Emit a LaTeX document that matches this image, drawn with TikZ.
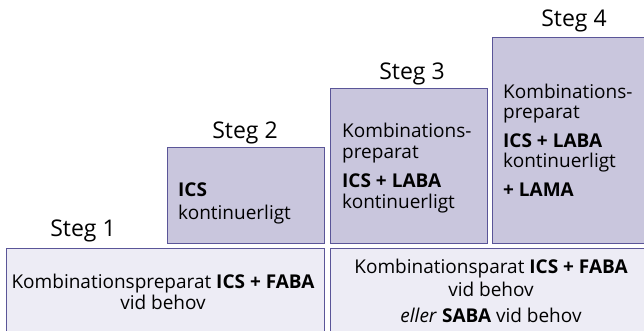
\documentclass[tikz,border=0pt]{standalone}
\usepackage{fontspec}
\setmainfont{Open Sans}
\definecolor{stepfill}{HTML}{C9C6DD}
\definecolor{basefill}{HTML}{EDECF5}
\definecolor{edgecol}{HTML}{5A5598}
\begin{document}
\begin{tikzpicture}[x=1pt,y=-1pt,
  stepbox/.style={draw=edgecol, fill=stepfill, line width=1pt, anchor=north west, inner sep=0pt, outer sep=0pt},
  basebox/.style={draw=edgecol, fill=basefill, line width=1pt, anchor=north west, inner sep=0pt, outer sep=0pt},
  steglabel/.style={font=\fontsize{23}{27}\selectfont, anchor=base, inner sep=0pt},
  bodyl/.style={font=\fontsize{19}{21}\selectfont, inner sep=0pt, anchor=base west},
  bodyc/.style={font=\fontsize{19}{21}\selectfont, inner sep=0pt, anchor=base}]
\useasboundingbox (0,0) rectangle (644,331);
\clip (0,0) rectangle (644,331);
% bottom boxes
\node[basebox, minimum width=318pt, minimum height=100pt] (b1) at (6,248) {};
\node[basebox, minimum width=330pt, minimum height=100pt] (b2) at (330,248) {};
% step boxes
\node[stepbox, minimum width=157pt, minimum height=95pt] (s2) at (167,148) {};
\node[stepbox, minimum width=157pt, minimum height=154pt] (s3) at (330,89) {};
\node[stepbox, minimum width=170pt, minimum height=205pt] (s4) at (492,38) {};
% labels
\node[steglabel] (l1) at (83,236.5) {Steg 1};
\node[steglabel] (l2) at (245,139) {Steg 2};
\node[steglabel] (l3) at (412,80) {Steg 3};
\node[steglabel] (l4) at (574,27) {Steg 4};
% step 2
\node[bodyl] (t2a) at (178,196) {\textbf{ICS}};
\node[bodyl] (t2b) at (178,219.5) {kontinuerligt};
% step 3
\node[bodyl] (t3a) at (342,138) {Kombinations-};
\node[bodyl] (t3b) at (342,158.5) {preparat};
\node[bodyl] (t3c) at (342,187) {\textbf{ICS + LABA}};
\node[bodyl] (t3d) at (342,208) {kontinuerligt};
% step 4
\node[bodyl] (t4a) at (503,98.5) {Kombinations-};
\node[bodyl] (t4b) at (503,119) {preparat};
\node[bodyl] (t4c) at (503,147) {\textbf{ICS + LABA}};
\node[bodyl] (t4d) at (503,167.5) {kontinuerligt};
\node[bodyl] (t4e) at (503,196) {\textbf{+ LAMA}};
% bottom left
\node[bodyc] (t1a) at (163,288) {Kombinationspreparat \textbf{ICS + FABA}};
\node[bodyc] (t1b) at (163,309) {vid behov};
% bottom right
\node[bodyc] (t5a) at (491,273.5) {Kombinationsparat \textbf{ICS + FABA}};
\node[bodyc] (t5b) at (491,296) {vid behov};
\node[bodyc] (t5c) at (491,322) {\textit{eller} \textbf{SABA} vid behov};
\end{tikzpicture}
\end{document}
